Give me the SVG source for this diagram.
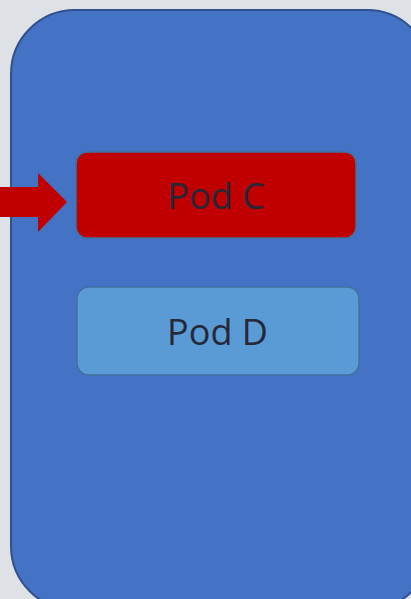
<svg xmlns="http://www.w3.org/2000/svg" width="411" height="599" viewBox="0 0 411 599">
<style>
.pod{stroke:#41719C;stroke-width:1.5}
.lbl{font-family:"Open Sans","DejaVu Sans",sans-serif;font-size:36px;fill:#262838;text-anchor:middle}
</style>
<rect width="411" height="599" fill="#DEE1E6"/>
<g id="node">
<rect x="11" y="10" width="420" height="600" rx="64" ry="64" fill="#4472C4" stroke="#2F528F" stroke-width="2"/>
</g>
<g id="podC">
<rect class="pod" x="76" y="152" width="280" height="86" rx="11" fill="#C00000"/>
<text class="lbl" x="216" y="209">Pod C</text>
</g>
<g id="podD">
<rect class="pod" x="77" y="287" width="282" height="88" rx="12" fill="#5B9BD5"/>
<text class="lbl" x="217.5" y="345">Pod D</text>
</g>
<g id="connectors">
<polygon points="0,187 38,187 38,173 67,202 38,232 38,217 0,217" fill="#C00000"/>
</g>
</svg>
